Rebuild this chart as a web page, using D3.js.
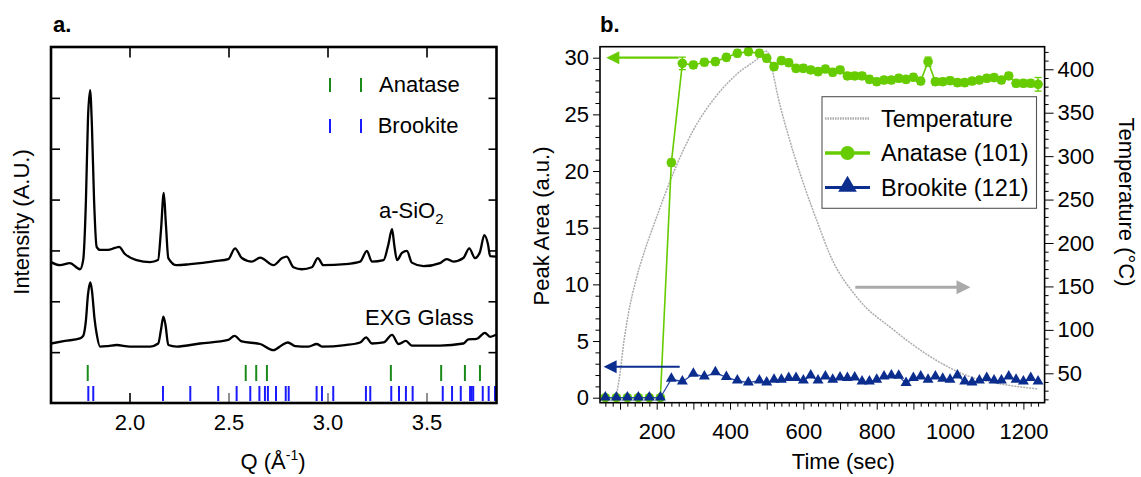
<!DOCTYPE html>
<html><head><meta charset="utf-8">
<script src="https://cdn.jsdelivr.net/npm/d3@7"></script>
<style>
html,body{margin:0;padding:0;background:#fff;}
svg{display:block;font-family:"Liberation Sans",Arial,Helvetica,sans-serif;}
</style></head><body>
<svg id="chart" width="1141" height="477"></svg>
<script>
// ---------------- DATA: panel a (XRD patterns) ----------------
const qSiO2 = [1.604,1.649,1.699,1.750,1.766,1.780,1.790,1.801,1.810,1.821,1.834,1.851,1.891,1.927,1.947,1.977,2.036,2.104,2.144,2.159,2.173,2.184,2.196,2.238,2.306,2.356,2.432,2.499,2.533,2.567,2.618,2.660,2.727,2.771,2.794,2.828,2.870,2.921,2.951,2.979,3.089,3.165,3.199,3.224,3.283,3.307,3.326,3.337,3.351,3.376,3.401,3.426,3.485,3.568,3.602,3.635,3.686,3.716,3.745,3.770,3.792,3.811,3.821,3.851];
const iSiO2 = [2.77,2.71,2.75,2.63,2.81,3.99,5.56,6.15,5.47,3.99,3.07,3.01,3.01,3.05,3.07,2.93,2.81,2.77,2.81,3.40,4.13,3.50,2.85,2.71,2.73,2.75,2.79,2.83,3.04,2.85,2.78,2.86,2.71,2.85,2.88,2.67,2.63,2.67,2.85,2.71,2.73,2.78,2.99,2.78,2.81,3.11,3.42,3.11,2.81,2.95,2.99,2.76,2.69,2.75,2.83,2.78,2.85,3.04,2.85,2.97,3.30,3.11,2.89,2.88];
const qEXG = [1.604,1.674,1.750,1.766,1.780,1.790,1.802,1.810,1.823,1.835,1.851,1.891,1.935,2.002,2.104,2.145,2.159,2.171,2.182,2.196,2.238,2.356,2.499,2.530,2.567,2.660,2.727,2.771,2.800,2.837,2.904,2.946,2.972,3.089,3.165,3.195,3.224,3.283,3.326,3.359,3.396,3.426,3.568,3.686,3.711,3.753,3.795,3.821,3.851];
const iEXG = [1.17,1.22,1.27,1.32,1.63,2.12,2.37,2.22,1.67,1.34,1.11,1.12,1.14,1.11,1.11,1.17,1.44,1.70,1.53,1.14,1.11,1.17,1.24,1.32,1.21,1.16,1.04,1.14,1.19,1.12,1.11,1.16,1.11,1.14,1.19,1.29,1.17,1.19,1.34,1.16,1.22,1.13,1.13,1.17,1.25,1.26,1.38,1.30,1.34];
const anataseRefQ = [1.789,2.587,2.640,2.694,3.320,3.574,3.694,3.770];
const brookiteRefQ = [1.792,1.817,2.169,2.307,2.448,2.541,2.610,2.656,2.684,2.699,2.740,2.789,2.804,2.945,2.972,3.029,3.194,3.216,3.322,3.361,3.396,3.430,3.582,3.629,3.673,3.720,3.728,3.736,3.784,3.814,3.846];
const qTicks = [2.0,2.5,3.0,3.5];
const qTickLabels = ["2.0","2.5","3.0","3.5"];
const intensityTicks = [1,2,3,4,5,6];

// ---------------- DATA: panel b (time series) ----------------
const timeSec = [60,90,120,150,180,210,240,270,300,330,360,390,420,450,480,500,520,540,560,580,600,620,640,660,680,700,720,740,760,780,800,820,840,860,880,900,920,940,960,980,1000,1020,1040,1060,1080,1100,1120,1140,1160,1180,1200,1220,1240];
const anatase101 = [0,0,0,0,0,0,20.74,29.5,29.36,29.6,29.65,30.03,30.39,30.53,30.39,29.95,29.21,29.74,29.56,29.06,29.06,28.92,28.77,29.0,28.71,28.92,28.39,28.39,28.39,28.09,27.88,28.03,28.03,28.18,28.09,28.27,27.94,29.65,27.88,27.88,27.97,27.8,27.8,27.94,28.03,28.18,28.24,28.03,28.39,27.74,27.74,27.74,27.65];
const anataseErr = [0.2,0.2,0.2,0.2,0.2,0.2,0.3,0.55,0.3,0.3,0.3,0.3,0.3,0.3,0.3,0.3,0.3,0.3,0.3,0.3,0.3,0.3,0.3,0.3,0.3,0.3,0.3,0.3,0.3,0.3,0.3,0.3,0.3,0.3,0.3,0.3,0.3,0.4,0.3,0.3,0.3,0.3,0.3,0.3,0.3,0.3,0.3,0.3,0.3,0.3,0.3,0.3,0.6];
const brookite121 = [0,0,0,0,0,0,1.65,1.41,2.09,1.85,2.21,1.80,1.50,1.32,1.50,1.32,1.56,1.56,1.70,1.70,1.50,1.94,1.50,1.85,1.56,1.76,1.70,1.76,1.41,1.41,1.56,1.85,1.94,1.91,1.26,1.70,1.85,1.56,1.85,1.65,1.56,1.94,1.41,1.32,1.50,1.70,1.50,1.50,1.85,1.56,1.41,1.70,1.41];
const tempTime = [88,100,110,123,145,168,200,240,300,360,420,480,497,505,515,530,563,603,640,674,745,846,947,1048,1149,1240];
const tempC = [20,50,85,119,160,192,230,275,330,368,395,414,421,418,400,370,318,265,222,185,138,100,69,47,37,32];
const areaTicks = [0,5,10,15,20,25,30];
const tempTicks = [50,100,150,200,250,300,350,400];
const timeMajor = [100,200,300,400,500,600,700,800,900,1000,1100,1200];
const timeLabels = [200,400,600,800,1000,1200];
const seriesNames = ["Temperature","Anatase (101)","Brookite (121)"];

// ---------------- STYLE ----------------
const FONT = "Liberation Sans, Arial, Helvetica, sans-serif";
const GREEN = "#66cc00", NAVY = "#0b2d8e", GRAY = "#ababab";

const svg = d3.select("#chart");

// ======== Panel a ========
const xA = d3.scaleLinear().domain([1.6035, 3.8535]).range([51, 496.5]);
const yA = d3.scaleLinear().domain([0, 7]).range([403, 47]);
const gA = svg.append("g");

const lineA = d3.line().x(d => xA(d[0])).y(d => yA(d[1])).curve(d3.curveMonotoneX);
gA.append("path").datum(d3.zip(qSiO2, iSiO2)).attr("d", lineA)
  .attr("fill","none").attr("stroke","#000").attr("stroke-width",2.3).attr("stroke-linejoin","round");
gA.append("path").datum(d3.zip(qEXG, iEXG)).attr("d", lineA)
  .attr("fill","none").attr("stroke","#000").attr("stroke-width",2.3).attr("stroke-linejoin","round");

// reference ticks
gA.selectAll("line.ana").data(anataseRefQ).join("line")
  .attr("x1", d => xA(d)).attr("x2", d => xA(d)).attr("y1",365).attr("y2",381)
  .attr("stroke","#1a8a1a").attr("stroke-width",2);
gA.selectAll("line.bro").data(brookiteRefQ).join("line")
  .attr("x1", d => xA(d)).attr("x2", d => xA(d)).attr("y1",386).attr("y2",401)
  .attr("stroke","#1a1aff").attr("stroke-width",2);

function styleAxis(g){ g.select(".domain").remove(); g.attr("font-family",FONT).attr("font-size",22); g.selectAll("text").attr("fill","#000"); }

gA.append("g").attr("transform","translate(0,47)")
  .call(d3.axisTop(xA).tickValues(qTicks).tickSize(-10.5).tickFormat(""))
  .call(styleAxis).selectAll("line").attr("stroke","#000").attr("stroke-width",1.6);
gA.append("g").attr("transform","translate(0,403)")
  .call(d3.axisBottom(xA).tickValues(qTicks).tickSize(-10).tickFormat(""))
  .call(styleAxis).selectAll("line").attr("stroke",(d,i)=> i===0 ? "#000" : "#777").attr("stroke-width",1.6);
gA.append("g").attr("transform","translate(0,403)")
  .call(d3.axisBottom(xA).tickValues(qTicks).tickSize(0).tickPadding(11.5).tickFormat((d,i)=>qTickLabels[i]))
  .call(styleAxis);
gA.append("g").attr("transform","translate(51,0)")
  .call(d3.axisLeft(yA).tickValues(intensityTicks).tickSize(-9).tickFormat(""))
  .call(styleAxis).selectAll("line").attr("stroke","#000").attr("stroke-width",1.6);
gA.append("g").attr("transform","translate(496.5,0)")
  .call(d3.axisRight(yA).tickValues(intensityTicks).tickSize(-8).tickFormat(""))
  .call(styleAxis).selectAll("line").attr("stroke","#000").attr("stroke-width",1.6);

gA.append("rect").attr("x",51).attr("y",47).attr("width",445.5).attr("height",356)
  .attr("fill","none").attr("stroke","#000").attr("stroke-width",2.6);

// legend a
[[78,92,"#1a8a1a","Anatase",379],[119,133,"#1a1aff","Brookite",377.7]].forEach(r=>{
  [330,361].forEach(x=> gA.append("line").attr("x1",x).attr("x2",x).attr("y1",r[0]).attr("y2",r[1])
     .attr("stroke",r[2]).attr("stroke-width",2));
  gA.append("text").attr("x",r[4]).attr("y",r[1]).attr("font-size",22).attr("font-family",FONT).text(r[3]);
});
const tSi = gA.append("text").attr("x",379).attr("y",218).attr("font-size",22).attr("font-family",FONT);
tSi.append("tspan").text("a-SiO");
tSi.append("tspan").attr("font-size",15).attr("dy",6).text("2");
gA.append("text").attr("x",365).attr("y",325).attr("font-size",22).attr("font-family",FONT).text("EXG Glass");

gA.append("text").attr("transform","translate(21,222) rotate(-90)").attr("text-anchor","middle")
  .attr("dy","0.35em").attr("font-size",22).attr("font-family",FONT).text("Intensity (A.U.)");
const qt = gA.append("text").attr("x",273).attr("y",469).attr("text-anchor","middle").attr("font-size",22).attr("font-family",FONT);
qt.append("tspan").text("Q (Å");
qt.append("tspan").attr("font-size",14).attr("dy",-9).text("-1");
qt.append("tspan").attr("dy",9).text(")");
svg.append("text").attr("x",53).attr("y",32).attr("font-size",22).attr("font-weight","bold").attr("font-family",FONT).text("a.");

// ======== Panel b ========
const xB = d3.scaleLinear().domain([45.4, 1257.8]).range([600, 1044.6]);
const yB = d3.scaleLinear().domain([-0.44, 30.97]).range([402.7, 46.7]);
const yT = d3.scaleLinear().domain([16.15, 426]).range([402.7, 46.7]);
const gB = svg.append("g");

// temperature
gB.append("path").datum(d3.zip(tempTime, tempC))
  .attr("d", d3.line().x(d=>xB(d[0])).y(d=>yT(d[1])).curve(d3.curveMonotoneX))
  .attr("fill","none").attr("stroke",GRAY).attr("stroke-width",1.5).attr("stroke-dasharray","2 1");

// anatase
const anaData = d3.zip(timeSec, anatase101, anataseErr);
gB.append("path").datum(anaData)
  .attr("d", d3.line().x(d=>xB(d[0])).y(d=>yB(d[1])))
  .attr("fill","none").attr("stroke",GREEN).attr("stroke-width",1.6);
const eb = gB.append("g").attr("stroke",GREEN).attr("stroke-width",1.3);
anaData.forEach(d=>{
  const x = xB(d[0]), y1 = yB(d[1]-d[2]), y2 = yB(d[1]+d[2]);
  eb.append("line").attr("x1",x).attr("x2",x).attr("y1",y1).attr("y2",y2);
  eb.append("line").attr("x1",x-3.5).attr("x2",x+3.5).attr("y1",y1).attr("y2",y1);
  eb.append("line").attr("x1",x-3.5).attr("x2",x+3.5).attr("y1",y2).attr("y2",y2);
});
gB.selectAll("circle.ana").data(anaData).join("circle")
  .attr("cx",d=>xB(d[0])).attr("cy",d=>yB(d[1])).attr("r",4.8).attr("fill",GREEN);

// brookite
const broData = d3.zip(timeSec, brookite121);
gB.append("path").datum(broData)
  .attr("d", d3.line().x(d=>xB(d[0])).y(d=>yB(d[1])))
  .attr("fill","none").attr("stroke","#2a4aa8").attr("stroke-width",1.3);
const tri = d3.symbol().type(d3.symbolTriangle).size(52);
gB.selectAll("path.bro").data(broData).join("path")
  .attr("transform",d=>`translate(${xB(d[0])},${yB(d[1])-0.5})`).attr("d",tri).attr("fill",NAVY);

// axes b
gB.append("g").attr("transform","translate(600,0)")
  .call(d3.axisLeft(yB).tickValues(d3.range(0,31,1).filter(v=>!areaTicks.includes(v))).tickSize(4.5).tickFormat(""))
  .call(styleAxis).selectAll("line").attr("stroke","#000");
gB.append("g").attr("transform","translate(600,0)")
  .call(d3.axisLeft(yB).tickValues(areaTicks).tickSize(7).tickPadding(4))
  .call(styleAxis).selectAll("line").attr("stroke","#000");
gB.append("g").attr("transform","translate(1044.6,0)")
  .call(d3.axisRight(yT).tickValues(d3.range(20,430,10).filter(v=>!tempTicks.includes(v))).tickSize(4).tickFormat(""))
  .call(styleAxis).selectAll("line").attr("stroke","#000");
gB.append("g").attr("transform","translate(1044.6,0)")
  .call(d3.axisRight(yT).tickValues(tempTicks).tickSize(9).tickPadding(4))
  .call(styleAxis).selectAll("line").attr("stroke","#000");
gB.append("g").attr("transform","translate(0,402.7)")
  .call(d3.axisBottom(xB).tickValues(d3.range(60,1260,20).filter(v=>!timeMajor.includes(v))).tickSize(4).tickFormat(""))
  .call(styleAxis).selectAll("line").attr("stroke","#000");
gB.append("g").attr("transform","translate(0,402.7)")
  .call(d3.axisBottom(xB).tickValues(timeMajor).tickSize(7).tickPadding(14)
        .tickFormat(d => timeLabels.includes(d) ? String(d) : ""))
  .call(styleAxis).selectAll("line").attr("stroke","#000");

gB.append("rect").attr("x",600).attr("y",46.7).attr("width",444.6).attr("height",356)
  .attr("fill","none").attr("stroke","#000").attr("stroke-width",1.6);

// arrows
function arrow(x1,y1,x2,y2,color,w,hl,hw){
  const dir = Math.sign(x2-x1);
  gB.append("line").attr("x1",x1).attr("y1",y1).attr("x2",x2-dir*hl*0.8).attr("y2",y2)
    .attr("stroke",color).attr("stroke-width",w);
  gB.append("path").attr("d",`M${x2},${y2} L${x2-dir*hl},${y2-hw} L${x2-dir*hl},${y2+hw} Z`).attr("fill",color);
}
arrow(xB(260), yB(30), xB(62.6), yB(30), GREEN, 2.2, 13, 6.5);
arrow(xB(262.7), yB(2.73), xB(55.3), yB(2.73), NAVY, 2.2, 13, 6.5);
arrow(xB(741.6), yT(149), xB(1055.7), yT(149), "#aaaaaa", 3, 14, 7);

// legend b
const lg = gB.append("g");
lg.append("rect").attr("x",822).attr("y",96.7).attr("width",214.5).attr("height",111.6)
  .attr("fill","#fff").attr("stroke","#555").attr("stroke-width",1.1);
const rows = [118.5,153,187.5];
lg.append("line").attr("x1",825).attr("x2",870).attr("y1",rows[0]).attr("y2",rows[0])
  .attr("stroke",GRAY).attr("stroke-width",2.5).attr("stroke-dasharray","1.5 1");
lg.append("line").attr("x1",825).attr("x2",870).attr("y1",rows[1]).attr("y2",rows[1])
  .attr("stroke",GREEN).attr("stroke-width",3.5);
lg.append("circle").attr("cx",847.5).attr("cy",rows[1]).attr("r",7).attr("fill",GREEN);
lg.append("line").attr("x1",825).attr("x2",870).attr("y1",rows[2]).attr("y2",rows[2])
  .attr("stroke",NAVY).attr("stroke-width",3.2);
lg.append("path").attr("transform",`translate(847.5,${rows[2]-1})`)
  .attr("d",d3.symbol().type(d3.symbolTriangle).size(150)).attr("fill",NAVY);
seriesNames.forEach((s,i)=> lg.append("text").attr("x",881).attr("y",rows[i]+8.3)
  .attr("font-size",23.5).attr("font-family",FONT).text(s));

// titles b
gB.append("text").attr("transform","translate(541,226) rotate(-90)").attr("text-anchor","middle")
  .attr("dy","0.35em").attr("font-size",22).attr("font-family",FONT).text("Peak Area (a.u.)");
gB.append("text").attr("transform","translate(1127,202) rotate(90)").attr("text-anchor","middle")
  .attr("dy","0.35em").attr("font-size",22).attr("font-family",FONT).text("Temperature (°C)");
gB.append("text").attr("x",843.4).attr("y",469).attr("text-anchor","middle")
  .attr("font-size",22).attr("font-family",FONT).text("Time (sec)");
svg.append("text").attr("x",600).attr("y",32).attr("font-size",22).attr("font-weight","bold").attr("font-family",FONT).text("b.");
</script></body></html>
